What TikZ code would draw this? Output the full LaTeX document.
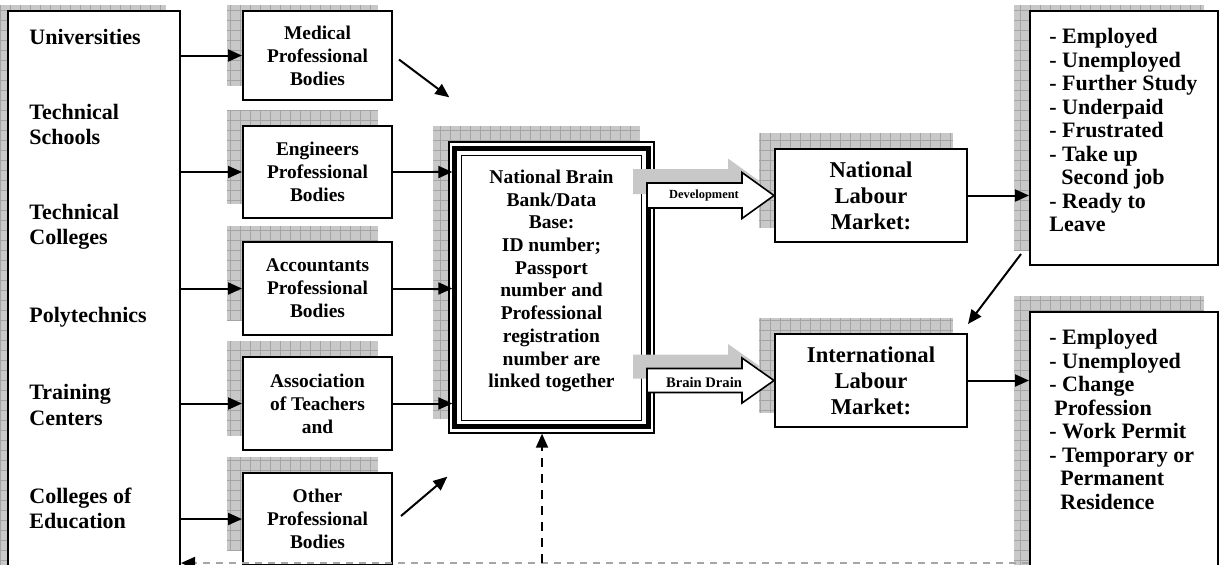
\documentclass[tikz,border=0pt]{standalone}
\usepackage{fontspec}
\setmainfont{Liberation Serif}
\usepackage{tikz}
\usetikzlibrary{arrows.meta,calc,positioning,backgrounds,shadows}
\definecolor{shadegray}{HTML}{C8C8C8}
\definecolor{gridgray}{HTML}{A4A4A4}
\definecolor{dashgray}{HTML}{A6A6A6}

\begin{document}
\begin{tikzpicture}[x=0.5pt,y=-0.5pt,
          box/.style={draw,line width=1pt,fill=white,inner sep=0pt,align=center,minimum width=74.5pt,minimum height=46pt,font=\fontsize{9.7}{11.5}\selectfont\bfseries},
          bigbox/.style={box,minimum width=96pt,minimum height=46.5pt,font=\fontsize{11.3}{13}\selectfont\bfseries},
          tallbox/.style={draw,line width=1pt,fill=white,inner sep=0pt},
          srctxt/.style={anchor=west,align=left,inner sep=0pt,font=\fontsize{11}{12.6}\selectfont\bfseries},
          listtxt/.style={anchor=north west,align=left,inner sep=0pt,font=\fontsize{11}{11.75}\selectfont\bfseries},
          shade/.style={fill=shadegray,path picture={\draw[gridgray,line width=0.4pt,step=5pt] (path picture bounding box.south west) grid (path picture bounding box.north east);}},
          arr/.style={-{Triangle[length=7pt,width=6pt]},line width=1pt},
          blockarr/.style={draw,fill=white,line width=0.8pt,general shadow={fill=shadegray,shadow xshift=-7pt,shadow yshift=7pt}},
          fback/.style={draw=dashgray,line width=1pt,dash pattern=on 3.5pt off 3pt,-{Triangle[length=7pt,width=6pt,color=black]}},
          fup/.style={arr,dash pattern=on 4.5pt off 3.5pt}
        ]
          \useasboundingbox (0,0) rectangle (1219,564);
          \clip (0,0) rectangle (1219,564);
          \node[tallbox,minimum width=86pt,minimum height=294.5pt] (src) at (94,305.5) {};
          \node[srctxt] (uni) at (29,37) {Universities};
          \node[srctxt] (tsch) at (29,124.5) {Technical\\Schools};
          \node[srctxt] (tcol) at (29,227) {Technical\\Colleges};
          \node[srctxt] (poly) at (29,317) {Polytechnics};
          \node[srctxt] (train) at (29,405) {Training\\Centers};
          \node[srctxt] (coled) at (29,508) {Colleges of\\Education};
          \node[box,minimum height=44.5pt] (med) at (317.5,55.5) {Medical\\Professional\\Bodies};
          \node[box] (eng) at (317.5,172) {Engineers\\Professional\\Bodies};
          \node[box,minimum height=46.5pt] (acc) at (317.5,288.5) {Accountants\\Professional\\Bodies};
          \node[box,minimum height=46.5pt] (assoc) at (317.5,403.5) {Association\\of Teachers\\and};
          \node[box] (oth) at (317.5,519) {Other\\Professional\\Bodies};
          \node[draw,line width=0.7pt,fill=white,minimum width=102.5pt,minimum height=145.5pt] (bank) at (551.5,287.5) {};
          \draw[line width=2.5pt] ([shift={(3.3pt,-3.6pt)}]bank.north west) rectangle ([shift={(-3.3pt,3.5pt)}]bank.south east);
          \draw[line width=0.7pt] ([shift={(6.6pt,-7pt)}]bank.north west) rectangle ([shift={(-6.6pt,6.6pt)}]bank.south east);
          \node[align=center,inner sep=0pt,font=\fontsize{9.75}{11.35}\selectfont\bfseries] (banktxt) at (551.5,281) {National Brain\\Bank/Data\\Base:\\ID number;\\Passport\\number and\\Professional\\registration\\number are\\linked together};
          \node[bigbox] (natl) at (871,195.5) {National\\Labour\\Market:};
          \node[bigbox] (intl) at (871,380.5) {International\\Labour\\Market:};
          \node[tallbox,minimum width=94pt,minimum height=127pt] (outa) at (1124,138) {};
          \node[tallbox,minimum width=94pt,minimum height=144pt] (outb) at (1124,456) {};
          \node[listtxt] (outatxt) at ([shift={(10pt,-9pt)}]outa.north west) {- Employed\\- Unemployed\\- Further Study\\- Underpaid\\- Frustrated\\- Take up\\\hspace*{6pt}Second job\\- Ready to\\Leave};
          \node[listtxt] (outbtxt) at ([shift={(10pt,-9pt)}]outb.north west) {- Employed\\- Unemployed\\- Change\\\hspace*{2.5pt}Profession\\- Work Permit\\- Temporary or\\\hspace*{5.5pt}Permanent\\\hspace*{5.5pt}Residence};
          \begin{scope}[on background layer]
            \clip (0,5) rectangle (1219,564);
            \foreach \n in {src,med,eng,acc,assoc,oth,bank,natl,intl,outa,outb}
              \path[shade] ([shift={(-7.5pt,7.5pt)}]\n.south west) rectangle ([shift={(-7.5pt,7.5pt)}]\n.north east);
          \end{scope}
          \foreach \n in {med,eng,acc,assoc,oth}
            \draw[arr] (src.east |- \n.west) -- (\n.west);
          \foreach \n in {eng,acc,assoc}
            \draw[arr] (\n.east) -- ($(\n.east -| bank.west)+(2pt,0pt)$);
          \draw[arr] ([shift={(3pt,-2pt)}]med.east) -- ([shift={(0.5pt,22pt)}]bank.north west);
          \draw[arr] ([shift={(4pt,1.5pt)}]oth.east) -- ([shift={(-0.5pt,-21.5pt)}]bank.south west);
          \draw[blockarr] (natl.west) -- ++(-32,-23) -- ++(0,10.5) -- ++(-95,0) -- ++(0,25) -- ++(95,0) -- ++(0,10.5) -- cycle;
          \node[inner sep=0pt,font=\fontsize{6.2}{7}\selectfont\bfseries] (devtxt) at ([xshift=-35pt]natl.west) {Development};
          \draw[blockarr] (intl.west) -- ++(-32,-22.5) -- ++(0,10.5) -- ++(-95,0) -- ++(0,24) -- ++(95,0) -- ++(0,10.5) -- cycle;
          \node[inner sep=0pt,font=\fontsize{7.3}{8}\selectfont\bfseries] (bdtxt) at ([shift={(-35pt,-1pt)}]intl.west) {Brain Drain};
          \draw[arr] (natl.east) -- (natl.east -| outa.west);
          \draw[arr] (intl.east) -- (intl.east -| outb.west);
          \draw[arr] ([shift={(-4pt,6pt)}]outa.south west) -- ([yshift=4.5pt]intl.north east);
          \coordinate (fb) at (542,563);
          \draw[fback] (outb.west |- fb) -- (src.east |- fb);
          \draw[fup] (fb) -- (fb |- bank.south);
        \end{tikzpicture}
\end{document}
